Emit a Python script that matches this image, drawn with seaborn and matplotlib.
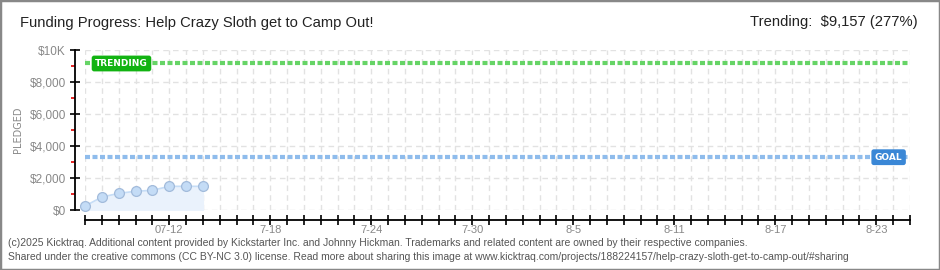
import matplotlib
matplotlib.use("Agg")
import matplotlib.pyplot as plt
from matplotlib.patches import Rectangle
from matplotlib.ticker import FixedLocator
import seaborn as sns
import pandas as pd

# ---- data ----
start_labels = ["07-07", "07-08", "07-09", "07-10", "07-11", "07-12", "07-13", "07-14"]
pledged = [250, 810, 1040, 1170, 1230, 1480, 1480, 1480]
day_index = [0, 1, 2, 3, 4, 5, 6, 7]
total_days = 49
tick_label_days = [5, 11, 17, 23, 29, 35, 41, 47]
tick_labels = ["07-12", "7-18", "7-24", "7-30", "8-5", "8-11", "8-17", "8-23"]
goal = 3300
trending = 9157
y_ticks = [0, 2000, 4000, 6000, 8000, 10000]
y_tick_labels = ["$0", "$2,000", "$4,000", "$6,000", "$8,000", "$10K"]

sns.set_theme(style="white")
plt.rcParams["font.family"] = ["Liberation Sans", "DejaVu Sans"]

df = pd.DataFrame({"day": day_index, "pledged": pledged})

fig = plt.figure(figsize=(9.4, 2.7), dpi=100)
ax = fig.add_axes([85 / 940, 60 / 270, 825 / 940, 160 / 270])

# grid
for d in range(total_days + 1):
    ax.axvline(d, color="#e2e2e2", lw=1, ls=(0, (4, 3)), zorder=0)
for yv in y_ticks:
    ax.axhline(yv, color="#e2e2e2", lw=1, ls=(0, (4, 3)), zorder=0)

# goal and trending lines
ax.axhline(trending, color="#66d466", lw=3, ls=(0, (1.2, 0.6)), zorder=1)
ax.axhline(goal, color="#8fbcec", lw=3, ls=(0, (1.2, 0.6)), zorder=1)

# pledged series
ax.fill_between(df["day"], df["pledged"], 0, color="#eaf2fc", zorder=2)
sns.lineplot(data=df, x="day", y="pledged", ax=ax, color="#c6ddf6", lw=1.2, zorder=3)
sns.scatterplot(data=df, x="day", y="pledged", ax=ax, s=50, color="#c4dcf6",
                edgecolor="#a2bbdb", linewidth=0.9, zorder=4, clip_on=False)

ax.set_xlim(0, total_days)
ax.set_ylim(0, 10000)

# labels on lines
ax.text(0.6, trending, "TRENDING", color="white", fontsize=6.5, fontweight="bold",
        family=["DejaVu Sans"], va="center", ha="left", zorder=6,
        bbox=dict(boxstyle="round,pad=0.3,rounding_size=0.2", fc="#12b312", ec="#12b312"))
ax.text(48.55, goal, "GOAL", color="white", fontsize=6.5, fontweight="bold",
        family=["DejaVu Sans"], va="center", ha="right", zorder=6,
        bbox=dict(boxstyle="round,pad=0.3,rounding_size=0.2", fc="#3a87d6", ec="#3a87d6"))

# spines
for s in ["top", "right"]:
    ax.spines[s].set_visible(False)
ax.spines["left"].set_position(("outward", 7.2))
ax.spines["bottom"].set_position(("outward", 7.2))
for s in ["left", "bottom"]:
    ax.spines[s].set_color("black")
    ax.spines[s].set_linewidth(1.3)

xt = list(range(total_days + 1))
ax.set_xticks(xt)
ax.set_xticklabels([tick_labels[tick_label_days.index(d)] if d in tick_label_days else "" for d in xt])
ax.tick_params(axis="x", which="major", bottom=True, direction="inout", length=7, width=1.2,
               color="black", pad=0, labelsize=8, labelcolor="#888888")

ax.set_yticks(y_ticks)
ax.set_yticklabels(y_tick_labels)
ax.yaxis.set_minor_locator(FixedLocator([1000, 3000, 5000, 7000, 9000]))
ax.tick_params(axis="y", which="major", left=True, direction="inout", length=7, width=1.2,
               color="black", labelsize=8.5, labelcolor="#888888", pad=3)
ax.tick_params(axis="y", which="minor", left=True, direction="out", length=3, width=1.2,
               color="#e00000")

ax.set_xlabel("")
ax.set_ylabel("PLEDGED", fontsize=7, color="#888888", labelpad=5, family=["DejaVu Sans"])

# titles
fig.text(20 / 940, 1 - 23 / 270, "Funding Progress: Help Crazy Sloth get to Camp Out!",
         fontsize=10.6, color="#222222", va="center", ha="left")
fig.text(918 / 940, 1 - 22 / 270, "Trending:  $9,157 (277%)",
         fontsize=10.6, color="#222222", va="center", ha="right")

# footer
fig.text(8 / 940, 1 - 243 / 270,
         "(c)2025 Kicktraq. Additional content provided by Kickstarter Inc. and Johnny Hickman. "
         "Trademarks and related content are owned by their respective companies.",
         fontsize=7.5, color="#555555", va="center", ha="left")
fig.text(8 / 940, 1 - 257 / 270,
         "Shared under the creative commons (CC BY-NC 3.0) license. Read more about sharing this "
         "image at www.kicktraq.com/projects/188224157/help-crazy-sloth-get-to-camp-out/#sharing",
         fontsize=7.5, color="#555555", va="center", ha="left")

# border
fig.patches.append(Rectangle((0, 0), 1, 1, transform=fig.transFigure, fill=False,
                             ec="#888888", lw=2.5))

fig.savefig("out.png", dpi=100, facecolor="white")
